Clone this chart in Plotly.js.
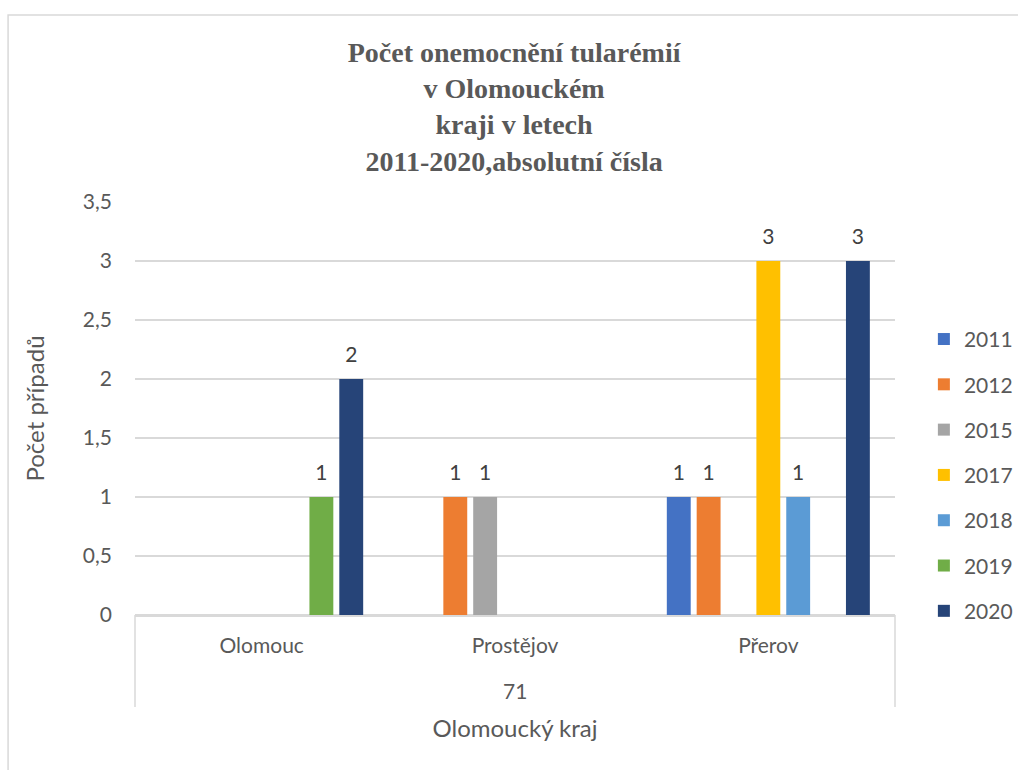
<!DOCTYPE html>
<html>
<head>
<meta charset="utf-8">
<script src="https://cdn.plot.ly/plotly-3.0.1.min.js"></script>
<style>html,body{margin:0;padding:0;background:#fff;}#chart{width:1018px;height:770px;}</style>
</head>
<body>
<div id="chart"></div>
<script>
const regionLabel = "71";
const districts = ["Olomouc", "Prostějov", "Přerov"];
const years = ["2011", "2012", "2015", "2017", "2018", "2019", "2020"];
const v2011 = [null, null, 1];
const v2012 = [null, 1, 1];
const v2015 = [null, 1, null];
const v2017 = [null, null, 3];
const v2018 = [null, null, 1];
const v2019 = [1, null, null];
const v2020 = [2, null, 3];
const seriesValues = [v2011, v2012, v2015, v2017, v2018, v2019, v2020];
const colors = ["#4472C4", "#ED7D31", "#A5A5A5", "#FFC000", "#5B9BD5", "#70AD47", "#264478"];

const FONT = "Lato, 'Open Sans', sans-serif";

const barTraces = years.map((y, i) => ({
  type: "bar",
  name: y,
  x: districts,
  y: seriesValues[i],
  marker: {color: colors[i]},
  offsetgroup: y,
  legendgroup: y,
  hoverinfo: "none"
}));

const labelTraces = years.map((y, i) => ({
  type: "scatter",
  mode: "markers+text",
  name: y + " label",
  x: districts,
  y: seriesValues[i],
  text: seriesValues[i].map(v => v == null ? "" : String(v)),
  textposition: "top center",
  textfont: {family: FONT, size: 21, color: "#404040"},
  marker: {size: 18, opacity: 0, color: "#ffffff"},
  offsetgroup: y,
  showlegend: false,
  cliponaxis: false,
  hoverinfo: "none"
}));

const layout = {
  width: 1018, height: 770,
  paper_bgcolor: "#fff", plot_bgcolor: "#fff",
  margin: {l: 135, r: 123, t: 202, b: 155, autoexpand: false},
  separators: ", ",
  barmode: "group",
  bargap: 0.175,
  bargroupgap: 0.2,
  scattermode: "group",
  scattergap: 0.175,
  font: {family: FONT, color: "#595959", size: 21},
  title: {
    text: "Počet onemocnění tularémií<br>v Olomouckém<br>kraji v letech<br>2011-2020,absolutní čísla",
    font: {family: "'Liberation Serif', 'Times New Roman', serif", size: 28, color: "#595959", weight: "bold"},
    x: 0.505, xanchor: "center", y: 0.92, yanchor: "top"
  },
  xaxis: {
    type: "category",
    showgrid: false,
    showline: true, linecolor: "#d9d9d9", linewidth: 1.5,
    ticks: "",
    ticklabelstandoff: 11,
    tickfont: {size: 21, color: "#595959"},
    title: {text: "Olomoucký kraj", font: {size: 24, color: "#595959"}, standoff: 64}
  },
  yaxis: {
    range: [0, 3.5], dtick: 0.5,
    showgrid: true, gridcolor: "#d9d9d9", gridwidth: 1.5,
    zeroline: true, zerolinecolor: "#d9d9d9", zerolinewidth: 1.5,
    showline: false, ticks: "",
    ticklabelstandoff: 22,
    tickfont: {size: 21, color: "#595959"},
    title: {text: "Počet případů", font: {size: 24, color: "#595959"}, standoff: 31}
  },
  legend: {
    x: 1.038, xanchor: "left", y: 0.717, yanchor: "top",
    font: {size: 21, color: "#595959"},
    traceorder: "grouped",
    tracegroupgap: 15,
    itemwidth: 30
  },
  annotations: [{
    text: regionLabel, xref: "paper", yref: "paper", x: 0.5, y: -0.1816,
    xanchor: "center", yanchor: "middle", showarrow: false,
    font: {family: FONT, size: 21, color: "#595959"}
  }],
  shapes: [
    {type: "line", xref: "paper", yref: "paper", x0: 0, x1: 0, y0: 0, y1: -0.223,
     line: {color: "#d9d9d9", width: 1.5}},
    {type: "line", xref: "paper", yref: "paper", x0: 1, x1: 1, y0: 0, y1: -0.223,
     line: {color: "#d9d9d9", width: 1.5}},
    {type: "rect", xref: "paper", yref: "paper",
     x0: -0.167, x1: 1.2, y0: -0.5, y1: 1.453,
     line: {color: "#d9d9d9", width: 1.5}, fillcolor: "rgba(0,0,0,0)", layer: "below"}
  ]
};

Plotly.newPlot("chart", barTraces.concat(labelTraces), layout, {displayModeBar: false, staticPlot: true});
</script>
</body>
</html>
